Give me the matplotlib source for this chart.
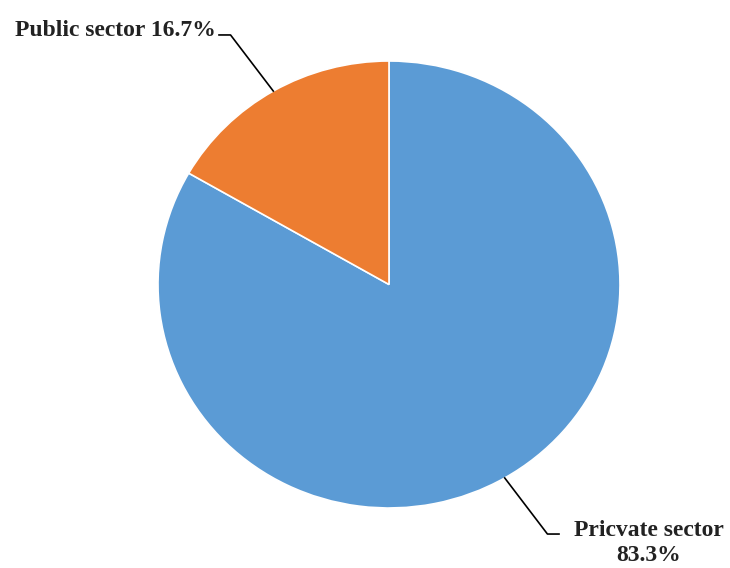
import numpy as np
import matplotlib.pyplot as plt

labels = ['Pricvate sector', 'Public sector']
shares = [83.3, 16.7]
colors = ['#5B9BD5', '#ED7D31']

plt.rcParams['font.family'] = ['Liberation Serif', 'DejaVu Serif']

fig = plt.figure(figsize=(7.3, 5.68), dpi=100)
ax = fig.add_axes([158/730, 60/568, 462/730, 447/568])
wedges, _ = ax.pie(shares, colors=colors, startangle=90, counterclock=False,
                   radius=1, wedgeprops=dict(edgecolor='white', linewidth=1.2))
ax.set_aspect('auto')
ax.set_xlim(-1, 1)
ax.set_ylim(-1, 1)
ax.axis('off')

# leader lines from the middle of each wedge
for w, lab, val in zip(wedges, labels, shares):
    mid = np.deg2rad((w.theta1 + w.theta2) / 2)
    x0, y0 = np.cos(mid), np.sin(mid)
    sx = np.sign(x0)
    x1, y1 = x0 + sx * 0.185, y0 * 1.29
    x2 = x1 + sx * 0.05
    ax.plot([x0, x1, x2], [y0, y1, y1], color='black', lw=1.2, clip_on=False)
    if sx < 0:
        ax.text(x2 - 0.012, y1 + 0.022, f'{lab} {val}%', ha='right', va='center',
                fontsize=17, fontweight='bold', color='#222222')
    else:
        ax.text(x2 + 0.39, y1 + 0.062, f'{lab}\n{val}%', ha='center', va='top',
                fontsize=17, fontweight='bold', color='#222222', linespacing=1.25)

fig.savefig('out.png', dpi=100)
